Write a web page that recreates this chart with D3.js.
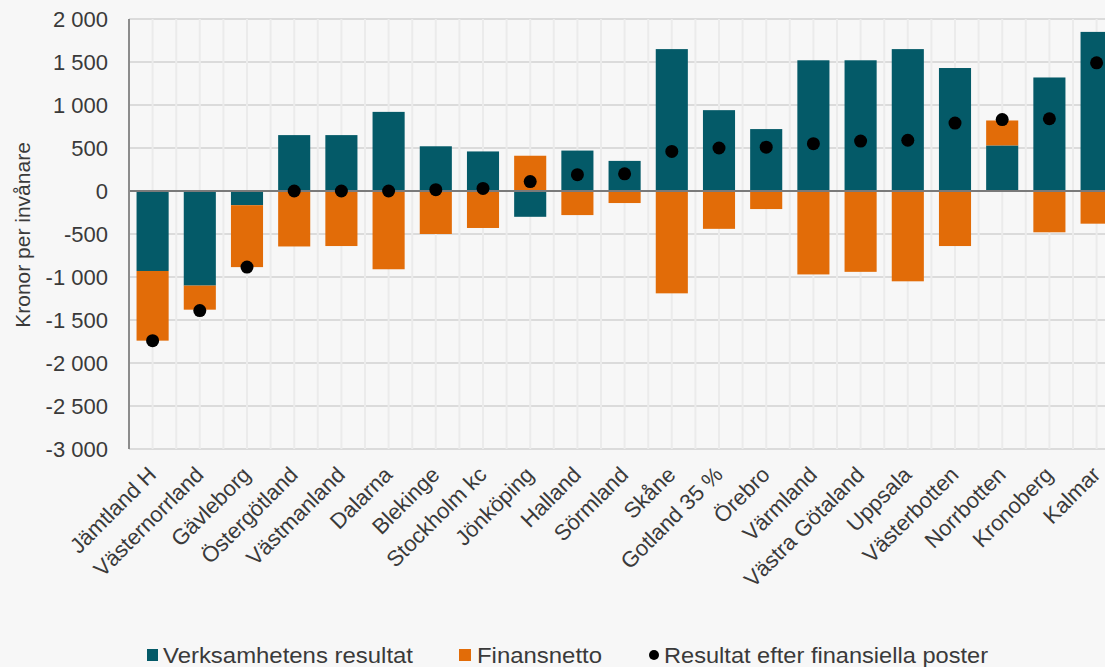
<!DOCTYPE html>
<html>
<head>
<meta charset="utf-8">
<script src="https://cdn.jsdelivr.net/npm/d3@7"></script>
<style>
  html, body { margin: 0; padding: 0; background: #f7f7f7; }
  svg { display: block; font-family: "Liberation Sans", Arial, sans-serif; }
</style>
</head>
<body>
<svg id="chart" width="1105" height="667"></svg>
<script>
const categories = ["Jämtland H","Västernorrland","Gävleborg","Östergötland","Västmanland","Dalarna","Blekinge","Stockholm kc","Jönköping","Halland","Sörmland","Skåne","Gotland 35 %","Örebro","Värmland","Västra Götaland","Uppsala","Västerbotten","Norrbotten","Kronoberg","Kalmar"];
const verksamhetensResultat = [-930,-1100,-165,650,650,920,520,460,-300,470,350,1650,940,720,1520,1520,1650,1430,530,1320,1850];
const finansnetto = [-810,-280,-720,-645,-640,-910,-500,-430,410,-280,-140,-1190,-440,-210,-970,-940,-1050,-640,290,-480,-380];
const resultatEfter = [-1740,-1390,-885,0,0,0,15,30,110,190,200,460,500,510,550,580,590,790,830,840,1490];
const yTicks = [-3000,-2500,-2000,-1500,-1000,-500,0,500,1000,1500,2000];
const seriesNames = ["Verksamhetens resultat","Finansnetto","Resultat efter finansiella poster"];
const colors = {verk: "#045a68", fin: "#e26c08", dot: "#000000"};

const svg = d3.select("#chart");
const left = 129, step = 47.2;
const x = d3.scaleBand().domain(categories).range([left, left + step * categories.length]).paddingInner(0.32).paddingOuter(0.16);
const y = d3.scaleLinear().domain([-3000, 2000]).range([449, 19]);

const loc = d3.formatLocale({decimal: ",", thousands: " ", grouping: [3], currency: ["", ""], minus: "-"});
const fmt = loc.format(",d");

const plotRight = left + step * categories.length;

// horizontal gridlines
svg.append("g").selectAll("line").data(yTicks).join("line")
  .attr("x1", left).attr("x2", plotRight)
  .attr("y1", d => y(d)).attr("y2", d => y(d))
  .attr("stroke", "#d2d2d2").attr("stroke-width", 1.5);

// vertical gridlines at half-category positions
const vg = [];
for (let i = 0; i <= categories.length * 2; i++) vg.push(left + i * step / 2);
svg.append("g").selectAll("line").data(vg).join("line")
  .attr("x1", d => d).attr("x2", d => d)
  .attr("y1", y(2000)).attr("y2", y(-3000))
  .attr("stroke", "#ebebeb").attr("stroke-width", 2);

// stacked bars
const rows = categories.map((c, i) => ({cat: c, verk: verksamhetensResultat[i], fin: finansnetto[i]}));
const stack = d3.stack().keys(["verk", "fin"]).offset(d3.stackOffsetDiverging);
const stacked = stack(rows);
svg.append("g").selectAll("g").data(stacked).join("g")
  .attr("fill", d => colors[d.key])
  .selectAll("rect").data(d => d).join("rect")
  .attr("x", d => x(d.data.cat))
  .attr("width", x.bandwidth())
  .attr("y", d => y(Math.max(d[0], d[1])))
  .attr("height", d => Math.abs(y(d[0]) - y(d[1])));

// zero line
svg.append("line").attr("x1", left).attr("x2", plotRight)
  .attr("y1", y(0)).attr("y2", y(0))
  .attr("stroke", "#7a7a7a").attr("stroke-width", 2);

// left axis line
svg.append("line").attr("x1", left).attr("x2", left)
  .attr("y1", y(2000)).attr("y2", y(-3000))
  .attr("stroke", "#8c8c8c").attr("stroke-width", 2);

// dots
svg.append("g").selectAll("circle").data(resultatEfter).join("circle")
  .attr("cx", (d, i) => x(categories[i]) + x.bandwidth() / 2)
  .attr("cy", d => y(d))
  .attr("r", 6.5).attr("fill", colors.dot);

// y tick labels
svg.append("g").selectAll("text").data(yTicks).join("text")
  .attr("x", 108).attr("y", d => y(d)).attr("dy", "0.36em")
  .attr("text-anchor", "end").attr("font-size", 22).attr("fill", "#3a3a3a")
  .text(d => fmt(d));

// y title
svg.append("text")
  .attr("transform", "translate(30,235) rotate(-90)")
  .attr("text-anchor", "middle").attr("font-size", 21).attr("fill", "#3a3a3a")
  .text("Kronor per invånare");

// category labels
svg.append("g").selectAll("text").data(categories).join("text")
  .attr("transform", d => `translate(${x(d) + x.bandwidth() / 2 + 5},476) rotate(-45)`)
  .attr("text-anchor", "end").attr("font-size", 22).attr("fill", "#3a3a3a")
  .text(d => d);

// legend
const lg = svg.append("g").attr("font-size", 22).attr("fill", "#3a3a3a");
lg.append("rect").attr("x", 147).attr("y", 649).attr("width", 11).attr("height", 12).attr("fill", colors.verk);
lg.append("text").attr("x", 163).attr("y", 663).attr("textLength", 250).attr("lengthAdjust", "spacingAndGlyphs").text(seriesNames[0]);
lg.append("rect").attr("x", 459).attr("y", 649).attr("width", 12).attr("height", 12).attr("fill", colors.fin);
lg.append("text").attr("x", 477).attr("y", 663).attr("textLength", 125).attr("lengthAdjust", "spacingAndGlyphs").text(seriesNames[1]);
lg.append("circle").attr("cx", 654).attr("cy", 655).attr("r", 5).attr("fill", colors.dot);
lg.append("text").attr("x", 664).attr("y", 663).attr("textLength", 324).attr("lengthAdjust", "spacingAndGlyphs").text(seriesNames[2]);
</script>
</body>
</html>
